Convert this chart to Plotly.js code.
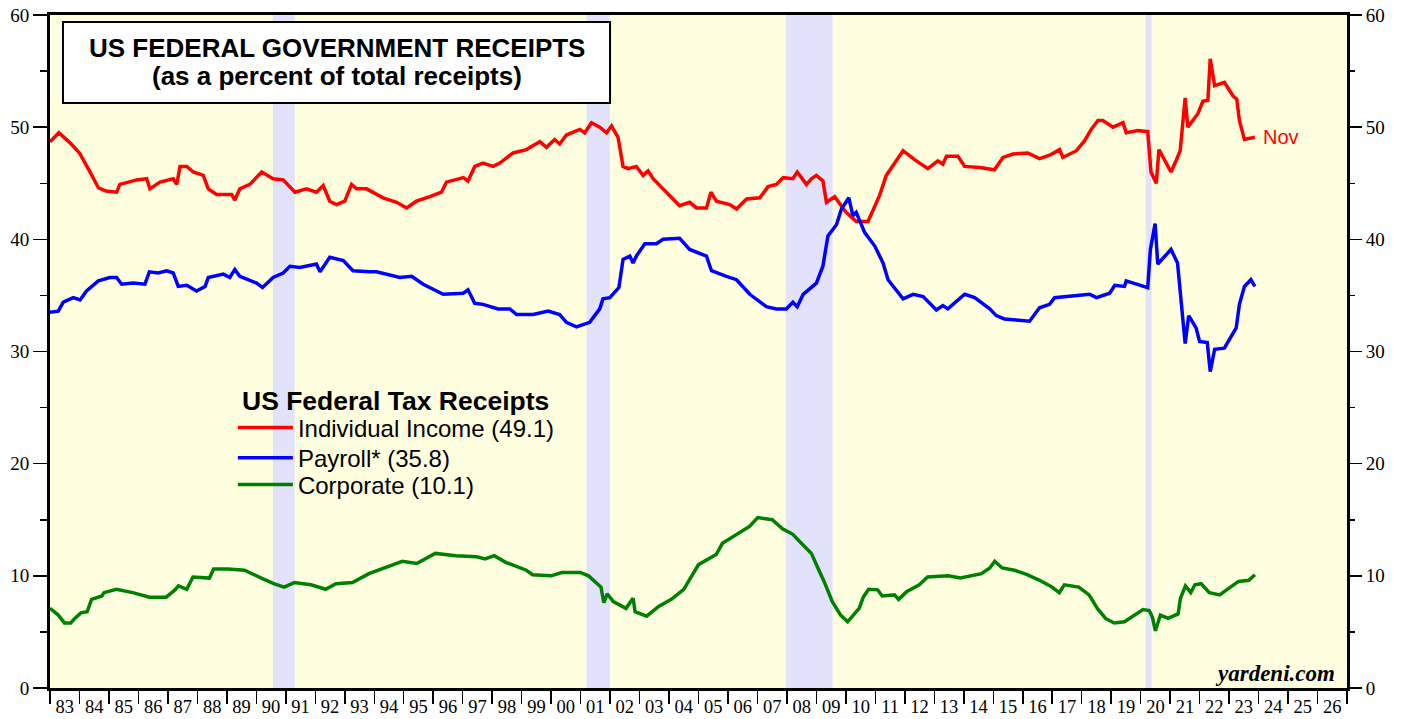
<!DOCTYPE html>
<html>
<head>
<meta charset="utf-8">
<script src="https://cdn.plot.ly/plotly-3.0.1.min.js"></script>
<style>html,body{margin:0;padding:0;background:#fff;}#chart{width:1407px;height:719px;}</style>
</head>
<body>
<div id="chart"></div>
<script>
// ---- data (decimal years, percent of total receipts) ----
const indYears = [1983.0,1983.3,1983.68,1984.0,1984.36,1984.64,1984.9,1985.26,1985.37,1985.94,1986.28,1986.39,1986.73,1987.18,1987.3,1987.41,1987.64,1987.86,1988.2,1988.37,1988.65,1989.16,1989.27,1989.44,1989.78,1990.18,1990.57,1990.91,1991.31,1991.7,1992.04,1992.27,1992.49,1992.72,1993.0,1993.23,1993.4,1993.74,1994.3,1994.76,1995.1,1995.43,1995.89,1996.28,1996.45,1997.02,1997.18,1997.41,1997.69,1998.03,1998.26,1998.71,1999.16,1999.62,1999.84,2000.12,2000.29,2000.52,2000.97,2001.14,2001.37,2001.65,2001.88,2002.05,2002.27,2002.44,2002.61,2002.89,2003.12,2003.29,2003.46,2003.91,2004.36,2004.7,2004.93,2005.27,2005.42,2005.61,2006.06,2006.29,2006.63,2007.08,2007.36,2007.64,2007.87,2008.2,2008.35,2008.66,2008.83,2009.0,2009.22,2009.34,2009.62,2010.01,2010.35,2010.75,2011.14,2011.37,2011.65,2011.94,2012.33,2012.78,2013.12,2013.29,2013.41,2013.8,2014.03,2014.54,2015.04,2015.33,2015.67,2016.17,2016.57,2016.91,2017.25,2017.36,2017.82,2018.1,2018.32,2018.55,2018.72,2019.06,2019.4,2019.51,2019.9,2020.24,2020.35,2020.53,2020.62,2020.75,2021.03,2021.2,2021.34,2021.51,2021.6,2021.94,2022.11,2022.28,2022.36,2022.51,2022.84,2023.13,2023.26,2023.35,2023.52,2023.875];
const indVals = [48.7,49.5,48.6,47.7,46.0,44.6,44.3,44.2,44.9,45.3,45.4,44.5,45.1,45.4,44.9,46.5,46.5,46.0,45.7,44.5,44.0,44.0,43.5,44.5,44.9,46.0,45.4,45.3,44.2,44.5,44.2,44.8,43.4,43.1,43.4,44.9,44.5,44.5,43.7,43.3,42.8,43.4,43.8,44.2,45.1,45.5,45.2,46.5,46.8,46.5,46.8,47.7,48.0,48.7,48.2,48.9,48.5,49.3,49.8,49.5,50.4,50.0,49.5,50.1,49.1,46.5,46.3,46.5,45.7,46.1,45.4,44.2,43.0,43.3,42.8,42.8,44.2,43.4,43.1,42.7,43.6,43.7,44.7,44.9,45.5,45.4,46.0,44.9,45.4,45.7,45.2,43.3,43.8,42.4,41.6,41.6,43.9,45.7,46.8,47.9,47.1,46.3,47.0,46.7,47.4,47.4,46.5,46.4,46.2,47.3,47.6,47.7,47.2,47.5,48.0,47.3,47.9,48.8,49.8,50.6,50.6,50.0,50.4,49.5,49.7,49.6,46.0,45.0,48.0,47.4,46.0,47.0,47.9,52.6,50.0,51.2,52.3,52.4,56.1,53.7,54.0,52.8,52.5,50.6,48.9,49.1];

const payYears = [1983.0,1983.28,1983.45,1983.79,1984.02,1984.24,1984.64,1985.03,1985.26,1985.43,1985.82,1986.22,1986.37,1986.67,1986.96,1987.18,1987.35,1987.64,1987.97,1988.26,1988.37,1988.88,1989.1,1989.27,1989.44,1990.01,1990.21,1990.57,1990.91,1991.14,1991.48,1992.04,1992.16,1992.49,1992.95,1993.28,1993.85,1994.08,1994.87,1995.27,1995.66,1996.34,1997.02,1997.18,1997.41,1997.69,1998.2,1998.6,1998.83,1999.39,1999.9,2000.29,2000.52,2000.86,2001.31,2001.65,2001.76,2001.99,2002.3,2002.44,2002.67,2002.78,2002.89,2003.18,2003.57,2003.8,2004.36,2004.7,2005.27,2005.44,2005.95,2006.29,2006.74,2007.3,2007.64,2007.98,2008.2,2008.35,2008.55,2009.0,2009.22,2009.39,2009.68,2009.85,2010.1,2010.24,2010.35,2010.64,2010.98,2011.26,2011.43,2011.94,2012.28,2012.62,2013.07,2013.29,2013.46,2014.03,2014.37,2014.88,2015.1,2015.38,2015.78,2016.23,2016.57,2016.91,2017.08,2017.59,2018.27,2018.5,2018.95,2019.12,2019.45,2019.51,2019.85,2020.24,2020.33,2020.49,2020.58,2021.03,2021.25,2021.51,2021.63,2021.88,2022.0,2022.26,2022.36,2022.51,2022.84,2023.24,2023.35,2023.52,2023.74,2023.875];
const payVals = [33.5,33.6,34.4,34.8,34.6,35.4,36.3,36.6,36.6,36.0,36.1,36.0,37.1,37.0,37.2,37.0,35.8,35.9,35.4,35.8,36.6,36.9,36.6,37.3,36.7,36.1,35.7,36.6,37.0,37.6,37.5,37.8,37.1,38.4,38.1,37.2,37.1,37.1,36.6,36.7,36.0,35.1,35.2,35.5,34.3,34.2,33.8,33.8,33.3,33.3,33.6,33.3,32.6,32.2,32.6,33.8,34.7,34.8,35.7,38.2,38.5,37.9,38.5,39.6,39.6,40.0,40.1,39.1,38.5,37.2,36.7,36.4,35.1,34.0,33.8,33.8,34.4,34.0,35.1,36.1,37.6,40.3,41.3,42.7,43.7,42.1,42.4,40.6,39.4,37.9,36.4,34.7,35.1,34.9,33.7,34.1,33.8,35.1,34.8,33.8,33.2,32.9,32.8,32.7,33.9,34.2,34.8,34.9,35.1,34.8,35.2,35.9,35.8,36.3,36.0,35.7,39.1,41.4,37.8,39.1,37.9,30.7,33.2,32.1,30.9,30.8,28.2,30.2,30.3,32.1,34.2,35.8,36.4,35.8];

const corpYears = [1983.0,1983.28,1983.49,1983.7,1983.84,1984.05,1984.26,1984.41,1984.76,1984.83,1985.25,1985.81,1986.37,1986.94,1987.22,1987.36,1987.64,1987.85,1988.41,1988.55,1989.04,1989.6,1990.17,1990.59,1990.94,1991.29,1991.85,1992.35,1992.7,1993.26,1993.82,1994.24,1994.95,1995.44,1996.07,1996.77,1997.48,1997.76,1998.07,1998.46,1999.16,1999.37,2000.0,2000.36,2000.99,2001.27,2001.69,2001.79,2001.9,2002.11,2002.54,2002.78,2002.85,2003.24,2003.66,2004.08,2004.5,2005.0,2005.6,2005.81,2006.17,2006.73,2007.01,2007.5,2007.85,2008.2,2008.49,2008.83,2009.05,2009.26,2009.54,2009.82,2010.06,2010.45,2010.59,2010.77,2011.08,2011.23,2011.65,2011.79,2012.07,2012.49,2012.77,2013.47,2013.89,2014.6,2014.88,2015.05,2015.3,2015.72,2016.15,2016.57,2016.99,2017.24,2017.41,2017.9,2018.25,2018.53,2018.81,2019.1,2019.45,2019.8,2020.08,2020.29,2020.4,2020.5,2020.67,2020.93,2021.27,2021.35,2021.52,2021.7,2021.84,2022.05,2022.33,2022.68,2022.96,2023.32,2023.67,2023.875];
const corpVals = [7.1,6.5,5.8,5.8,6.2,6.7,6.8,7.9,8.2,8.5,8.8,8.5,8.1,8.1,8.7,9.1,8.8,9.9,9.8,10.6,10.6,10.5,9.8,9.3,9.0,9.4,9.2,8.8,9.3,9.4,10.2,10.6,11.3,11.1,12.0,11.8,11.7,11.5,11.8,11.2,10.5,10.1,10.0,10.3,10.3,10.0,9.0,7.6,8.4,7.7,7.1,8.0,6.8,6.4,7.3,7.9,8.8,11.0,11.9,12.9,13.5,14.4,15.2,15.0,14.2,13.7,12.9,12.0,10.7,9.5,7.7,6.5,5.9,7.1,8.1,8.8,8.75,8.2,8.3,7.9,8.6,9.2,9.9,10.0,9.8,10.2,10.7,11.3,10.7,10.5,10.1,9.6,9.0,8.5,9.2,9.0,8.3,7.1,6.2,5.8,5.9,6.5,7.0,6.9,6.3,5.1,6.5,6.2,6.6,8.0,9.1,8.5,9.2,9.3,8.5,8.3,8.8,9.5,9.6,10.1];

const seriesNames = ["Individual Income (49.1)", "Payroll* (35.8)", "Corporate (10.1)"];
const seriesColors = ["#ff0000", "#0000ff", "#008000"];
const legendTitle = "US Federal Tax Receipts";

const recessionStarts = [1990.56, 2001.2, 2007.96, 2020.17];
const recessionEnds   = [1991.3, 2002.0, 2009.55, 2020.37];

const yearLabels = ["83","84","85","86","87","88","89","90","91","92","93","94","95","96","97","98","99","00","01","02","03","04","05","06","07","08","09","10","11","12","13","14","15","16","17","18","19","20","21","22","23","24","25","26"];
const firstYear = 1983;
const yTicks = [0,10,20,30,40,50,60];

const titleLine1 = "US FEDERAL GOVERNMENT RECEIPTS";
const titleLine2 = "(as a percent of total receipts)";

// ---- build ----
const labelPos = yearLabels.map((_, i) => firstYear + i + 0.5);
const yearBounds = [];
for (let i = 0; i <= yearLabels.length; i++) yearBounds.push(firstYear + i);

const serif = "Liberation Serif, Times New Roman, serif";
const sans = "Liberation Sans, Arial, sans-serif";

const legendIds = ["legend", "legend2", "legend3"];
const allYears = [indYears, payYears, corpYears];
const allVals = [indVals, payVals, corpVals];

const traces = seriesNames.map((n, i) => ({
  x: allYears[i], y: allVals[i], name: n, type: "scatter", mode: "lines",
  line: {color: seriesColors[i], width: 3.5}, legend: legendIds[i]
}));
traces.push({x: [corpYears[0]], y: [corpVals[0]], yaxis: "y2", type: "scatter", mode: "markers",
   marker: {opacity: 0}, showlegend: false, hoverinfo: "skip"});

const shapes = recessionStarts.map((s, i) => ({
  type: "rect", xref: "x", yref: "paper", x0: s, x1: recessionEnds[i], y0: 0, y1: 1,
  fillcolor: "#e2e2fc", line: {width: 0}, layer: "below"
}));
// title box (paper coordinates)
shapes.push({type: "rect", xref: "paper", yref: "paper", x0: 0.0100, x1: 0.4318, y0: 0.8692, y1: 0.9896,
  fillcolor: "#ffffff", line: {color: "#000", width: 2}, layer: "above"});

const yAxisCommon = {
  range: [0, 60], tickmode: "array", tickvals: yTicks, ticks: "outside", ticklen: 14,
  tickwidth: 1.5, tickcolor: "#000", showgrid: false, zeroline: false,
  tickfont: {family: serif, size: 19, color: "#000"},
  minor: {tickmode: "linear", dtick: 5, ticks: "outside", ticklen: 7, tickwidth: 1.5, tickcolor: "#000", showgrid: false}
};

const legendRowsY = [0.3863, 0.3417, 0.3016];
function legendBox(yPos) {
  return {x: 0.141, y: yPos, xanchor: "left", yanchor: "middle",
    bgcolor: "rgba(0,0,0,0)", borderwidth: 0,
    font: {family: sans, size: 24, color: "#000"}, itemwidth: 55, tracegroupgap: 0};
}

const layout = {
  width: 1407, height: 719,
  margin: {l: 50, r: 60, t: 15, b: 31},
  paper_bgcolor: "#ffffff",
  plot_bgcolor: "#ffffe0",
  showlegend: true,
  legend: legendBox(legendRowsY[0]),
  legend2: legendBox(legendRowsY[1]),
  legend3: legendBox(legendRowsY[2]),
  xaxis: {
    range: [1983, 2027], tickmode: "array", tickvals: labelPos, ticktext: yearLabels,
    ticks: "outside", ticklen: 0, tickcolor: "rgba(0,0,0,0)",
    tickfont: {family: serif, size: 18.5, color: "#000"},
    showline: true, linewidth: 3, linecolor: "#000", mirror: true,
    showgrid: false, zeroline: false,
    minor: {tickmode: "array", tickvals: yearBounds, ticks: "outside", ticklen: 13, tickwidth: 1.5, tickcolor: "#000", showgrid: false}
  },
  yaxis: Object.assign({}, yAxisCommon, {showline: true, linewidth: 3, linecolor: "#000", mirror: true}),
  yaxis2: Object.assign({}, yAxisCommon, {overlaying: "y", side: "right", showline: false}),
  shapes: shapes,
  annotations: [
    {xref: "paper", yref: "paper", x: 0.2209, y: 0.9510, xanchor: "center", yanchor: "middle",
     text: "<b>" + titleLine1 + "</b>", showarrow: false, font: {family: sans, size: 26, color: "#000"}},
    {xref: "paper", yref: "paper", x: 0.2209, y: 0.9094, xanchor: "center", yanchor: "middle",
     text: "<b>" + titleLine2 + "</b>", showarrow: false, font: {family: sans, size: 26, color: "#000"}},
    {xref: "paper", yref: "paper", x: 0.1465, y: 0.4265, xanchor: "left", yanchor: "middle",
     text: "<b>" + legendTitle + "</b>", showarrow: false, font: {family: sans, size: 26.5, color: "#000"}},
    {xref: "x", yref: "y", x: indYears[indYears.length - 1], y: indVals[indVals.length - 1],
     text: "Nov", showarrow: false, xanchor: "left", yanchor: "middle", xshift: 6,
     font: {family: sans, size: 20, color: "#ff0000"}},
    {xref: "paper", yref: "paper", x: 0.9923, y: 0.022, xanchor: "right", yanchor: "middle",
     text: "<b><i>yardeni.com</i></b>", showarrow: false,
     font: {family: serif, size: 23, color: "#000"}}
  ]
};

Plotly.newPlot("chart", traces, layout, {displayModeBar: false, staticPlot: true});
</script>
</body>
</html>
